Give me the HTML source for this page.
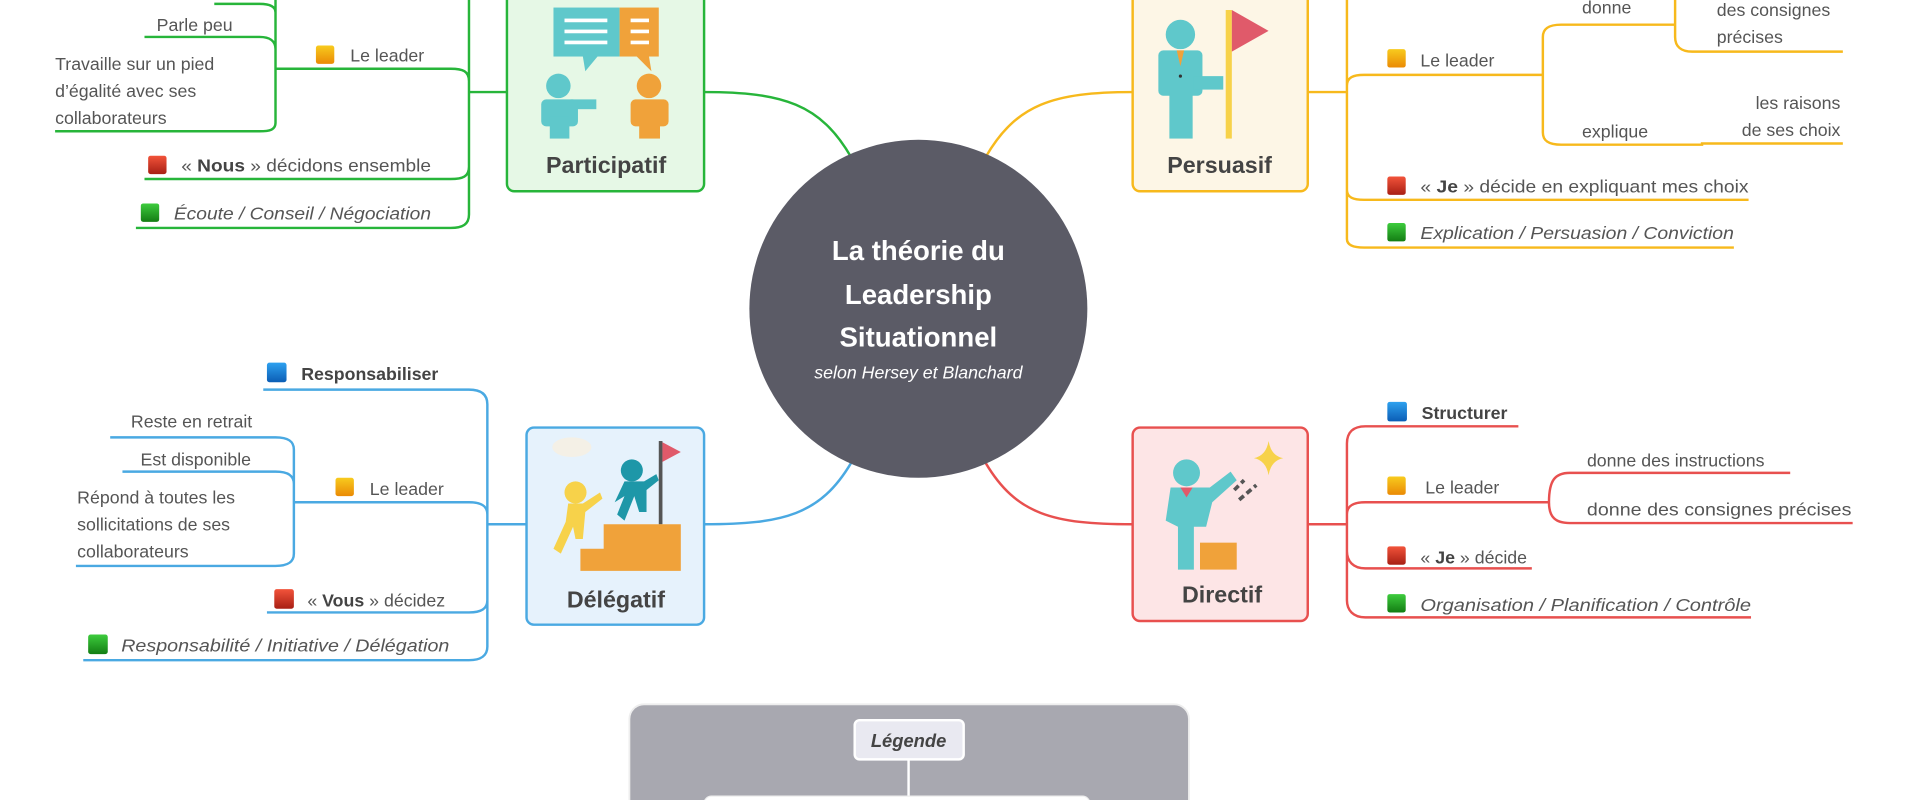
<!DOCTYPE html>
<html><head><meta charset="utf-8"><style>
html,body{margin:0;padding:0;background:#fff;width:1920px;height:800px;overflow:hidden}
svg{display:block}
text{font-family:"Liberation Sans",sans-serif;fill:#555;font-size:14.5px}
.b{font-weight:bold;fill:#444}
.i{font-style:italic}
.g{stroke:#27b53a;fill:none;stroke-width:2}
.y{stroke:#f7b91c;fill:none;stroke-width:2}
.bl{stroke:#4aa9e2;fill:none;stroke-width:2}
.r{stroke:#e8504f;fill:none;stroke-width:2}
</style></head><body>
<svg width="1920" height="800" viewBox="0 0 1568 653" xmlns="http://www.w3.org/2000/svg">
<defs>
<linearGradient id="gO" x1="0" y1="0" x2="0" y2="1"><stop offset="0" stop-color="#f8cb1e"/><stop offset="1" stop-color="#ea8a05"/></linearGradient>
<linearGradient id="gR" x1="0" y1="0" x2="0" y2="1"><stop offset="0" stop-color="#f2533a"/><stop offset="1" stop-color="#a81f14"/></linearGradient>
<linearGradient id="gG" x1="0" y1="0" x2="0" y2="1"><stop offset="0" stop-color="#3dcc3d"/><stop offset="1" stop-color="#137d13"/></linearGradient>
<linearGradient id="gB" x1="0" y1="0" x2="0" y2="1"><stop offset="0" stop-color="#2ea1ef"/><stop offset="1" stop-color="#0b5db5"/></linearGradient>
</defs>

<path class="g" d="M695,128 C670,85 640,75 575,75"/>
<path class="y" d="M805,128 C830,85 860,75 925,75"/>
<path class="bl" d="M695,378 C670,420 640,428 575,428"/>
<path class="r" d="M805,378 C830,420 860,428 925,428"/>

<circle cx="750" cy="252" r="138" fill="#5b5b66"/>
<text x="750" y="212" text-anchor="middle" style="fill:#fff;font-weight:bold;font-size:22.5px">La théorie du</text>
<text x="750" y="248" text-anchor="middle" style="fill:#fff;font-weight:bold;font-size:22.5px">Leadership</text>
<text x="750" y="283" text-anchor="middle" style="fill:#fff;font-weight:bold;font-size:22.5px">Situationnel</text>
<text x="750" y="309" text-anchor="middle" style="fill:#fff;font-style:italic;font-size:14.5px">selon Hersey et Blanchard</text>

<!-- PARTICIPATIF -->
<rect x="414" y="-10" width="161" height="166" rx="6" fill="#e6f8e6" stroke="#27b53a" stroke-width="2"/>
<rect x="452" y="6" width="54" height="40" fill="#5fc8cb"/><path d="M476,46 L478,58 L488,46Z" fill="#5fc8cb"/>
<rect x="506" y="6" width="32" height="40" fill="#f0a23a"/><path d="M520,46 L532,58 L530,46Z" fill="#f0a23a"/>
<g fill="#fff"><rect x="461" y="15" width="35" height="3"/><rect x="461" y="24" width="35" height="3"/><rect x="461" y="33" width="35" height="3"/><rect x="515" y="15" width="15" height="3"/><rect x="515" y="24" width="15" height="3"/><rect x="515" y="33" width="15" height="3"/></g>
<circle cx="456" cy="70" r="10" fill="#5fc8cb"/><rect x="442" y="81" width="30" height="22" rx="4" fill="#5fc8cb"/><rect x="449" y="95" width="16" height="18" fill="#5fc8cb"/><rect x="466" y="81" width="21" height="8" fill="#5fc8cb"/>
<circle cx="530" cy="70" r="10" fill="#f0a23a"/><rect x="515" y="81" width="31" height="22" rx="4" fill="#f0a23a"/><rect x="522" y="95" width="17" height="18" fill="#f0a23a"/>
<text x="495" y="141" text-anchor="middle" class="b" style="font-size:19px">Participatif</text>
<path class="g" d="M414,75 H383"/>
<path class="g" d="M383,-10 V175 M383,66 C383,58 378,56 368,56 H225 M383,136 C383,144 378,146 368,146 H118 M383,175 C383,183 378,186 368,186 H111"/>
<path class="g" d="M225,-5 V100 C225,106 220,107 212,107 H45 M225,40 C225,33 220,30 212,30 H118 M225,10 C225,5 220,3 212,3 H175"/>
<rect x="258" y="37" width="15" height="15" rx="2" fill="url(#gO)"/><text x="286" y="50">Le leader</text>
<text x="190" y="25" text-anchor="end">Parle peu</text>
<text x="45" y="57">Travaille sur un pied</text><text x="45" y="79">d’égalité avec ses</text><text x="45" y="101">collaborateurs</text>
<rect x="121" y="127" width="15" height="15" rx="2" fill="url(#gR)"/><text x="148" y="140" textLength="204" lengthAdjust="spacingAndGlyphs">« <tspan class="b">Nous</tspan> » décidons ensemble</text>
<rect x="115" y="166" width="15" height="15" rx="2" fill="url(#gG)"/><text x="142" y="179" class="i" textLength="210" lengthAdjust="spacingAndGlyphs">Écoute / Conseil / Négociation</text>

<!-- PERSUASIF -->
<rect x="925" y="-10" width="143" height="166" rx="6" fill="#fdf6e6" stroke="#f7b91c" stroke-width="2"/>
<circle cx="964" cy="28" r="12" fill="#5fc8cb"/><rect x="946" y="41" width="36" height="37" rx="4" fill="#5fc8cb"/><rect x="955" y="74" width="19" height="39" fill="#5fc8cb"/><rect x="975" y="62" width="24" height="11" fill="#5fc8cb"/>
<path d="M961,41 L967,41 L964,54Z" fill="#f0a23a"/><circle cx="964" cy="62" r="1.3" fill="#333"/>
<rect x="1001" y="8" width="5" height="105" fill="#f7d24a"/><path d="M1006,8 L1036,25 L1006,42Z" fill="#e05a6a"/>
<text x="996" y="141" text-anchor="middle" class="b" style="font-size:19px">Persuasif</text>
<path class="y" d="M1068,75 H1100 M1100,-10 V195 M1100,70 C1100,63 1105,61 1114,61 H1260 M1100,155 C1100,161 1105,163 1114,163 H1428 M1100,195 C1100,200 1105,202 1114,202 H1416"/>
<path class="y" d="M1260,30 C1260,23 1265,20 1275,20 H1368 M1260,30 V108 C1260,115 1265,118 1275,118 H1390 L1390,117 H1505"/>
<path class="y" d="M1368,20 V-5 M1368,20 V30 C1368,38 1373,42 1382,42 H1505"/>
<rect x="1133" y="40" width="15" height="15" rx="2" fill="url(#gO)"/><text x="1160" y="54">Le leader</text>
<text x="1292" y="11">donne</text>
<text x="1402" y="13">des consignes</text><text x="1402" y="35">précises</text>
<text x="1292" y="112">explique</text>
<text x="1503" y="89" text-anchor="end">les raisons</text><text x="1503" y="111" text-anchor="end">de ses choix</text>
<rect x="1133" y="144" width="15" height="15" rx="2" fill="url(#gR)"/><text x="1160" y="157" textLength="268" lengthAdjust="spacingAndGlyphs">« <tspan class="b">Je</tspan> » décide en expliquant mes choix</text>
<rect x="1133" y="182" width="15" height="15" rx="2" fill="url(#gG)"/><text x="1160" y="195" class="i" textLength="256" lengthAdjust="spacingAndGlyphs">Explication / Persuasion / Conviction</text>

<!-- DELEGATIF -->
<rect x="430" y="349" width="145" height="161" rx="6" fill="#e6f2fc" stroke="#4aa9e2" stroke-width="2"/>
<ellipse cx="467" cy="365" rx="16" ry="8" fill="#f4f0e6"/>
<rect x="538" y="360" width="3" height="68" fill="#555"/><path d="M541,361 L556,369 L541,377Z" fill="#e05a6a"/>
<path d="M448,466 L474,466 L474,448 L493,448 L493,428 L556,428 L556,466 L448,466Z" fill="#f0a23a"/>
<circle cx="516" cy="384" r="9" fill="#1e97a8"/><path d="M510,393 L526,393 L536,387 L538,392 L528,400 L528,418 L522,418 L518,405 L510,425 L504,420 L510,405 L502,410Z" fill="#1e97a8"/>
<circle cx="470" cy="402" r="9" fill="#f7d24a"/><path d="M464,411 L476,411 L490,402 L492,407 L478,418 L476,440 L470,440 L468,430 L458,452 L452,448 L462,426Z" fill="#f7d24a"/>
<text x="503" y="496" text-anchor="middle" class="b" style="font-size:19px">Délégatif</text>
<path class="bl" d="M430,428 H398 M398,330 V528 M398,330 C398,322 393,318 383,318 H215 M398,420 C398,413 393,410 383,410 H240 M398,490 C398,497 393,500 383,500 H218 M398,528 C398,535 393,539 383,539 H68"/>
<path class="bl" d="M240,367 V452 C240,459 235,462 225,462 H62 M240,367 C240,360 235,357 225,357 H90 M240,395 C240,388 235,385 225,385 H100"/>
<rect x="218" y="296" width="16" height="16" rx="2" fill="url(#gB)"/><text x="246" y="310" class="b">Responsabiliser</text>
<rect x="274" y="390" width="15" height="15" rx="2" fill="url(#gO)"/><text x="302" y="404">Le leader</text>
<text x="206" y="349" text-anchor="end">Reste en retrait</text>
<text x="205" y="380" text-anchor="end">Est disponible</text>
<text x="63" y="411">Répond à toutes les</text><text x="63" y="433">sollicitations de ses</text><text x="63" y="455">collaborateurs</text>
<rect x="224" y="481" width="16" height="16" rx="2" fill="url(#gR)"/><text x="251" y="495">« <tspan class="b">Vous</tspan> » décidez</text>
<rect x="72" y="518" width="16" height="16" rx="2" fill="url(#gG)"/><text x="99" y="532" class="i" textLength="268" lengthAdjust="spacingAndGlyphs">Responsabilité / Initiative / Délégation</text>

<!-- DIRECTIF -->
<rect x="925" y="349" width="143" height="158" rx="6" fill="#fde5e6" stroke="#e8504f" stroke-width="2"/>
<circle cx="969" cy="386" r="11" fill="#5fc8cb"/><path d="M956,398 L988,398 L1005,385 L1010,392 L990,410 L985,430 L975,430 L975,465 L962,465 L962,430 L952,425 Z" fill="#5fc8cb"/>
<path d="M964,398 L974,398 L969,406Z" fill="#e05a6a"/>
<rect x="980" y="443" width="30" height="22" fill="#f0a23a"/>
<path d="M1008,400 L1016,392 M1012,408 L1026,396" stroke="#555" stroke-width="3" stroke-dasharray="5 3"/>
<path d="M1036,360 Q1038,372 1048,374 Q1038,376 1036,388 Q1034,376 1024,374 Q1034,372 1036,360Z" fill="#f7d24a"/>
<text x="998" y="492" text-anchor="middle" class="b" style="font-size:19px">Directif</text>
<path class="r" d="M1068,428 H1100 M1100,362 V490 M1100,362 C1100,353 1105,348 1115,348 H1240 M1100,420 C1100,413 1105,410 1115,410 H1265 M1100,450 C1100,458 1105,464 1115,464 H1251 M1100,490 C1100,498 1105,504 1115,504 H1430"/>
<path class="r" d="M1265,410 C1265,392 1270,386 1282,386 H1462 M1265,410 C1265,422 1270,427 1282,427 H1513"/>
<rect x="1133" y="328" width="16" height="16" rx="2" fill="url(#gB)"/><text x="1161" y="342" class="b">Structurer</text>
<rect x="1133" y="389" width="15" height="15" rx="2" fill="url(#gO)"/><text x="1164" y="403">Le leader</text>
<text x="1296" y="381">donne des instructions</text>
<text x="1296" y="421" textLength="216" lengthAdjust="spacingAndGlyphs">donne  des consignes précises</text>
<rect x="1133" y="446" width="15" height="15" rx="2" fill="url(#gR)"/><text x="1160" y="460">« <tspan class="b">Je</tspan> » décide</text>
<rect x="1133" y="485" width="15" height="15" rx="2" fill="url(#gG)"/><text x="1160" y="499" class="i" textLength="270" lengthAdjust="spacingAndGlyphs">Organisation /  Planification / Contrôle</text>

<!-- LEGEND -->
<rect x="514" y="575" width="457" height="100" rx="12" fill="#a8a8b0" stroke="#eeeeee" stroke-width="1.5"/>
<rect x="698" y="588" width="89" height="32" rx="4" fill="#e9e9f1" stroke="#fff" stroke-width="2"/>
<text x="742" y="610" text-anchor="middle" class="b i" style="font-size:15px">Légende</text>
<path d="M742,620 V653" stroke="#fff" stroke-width="2"/>
<rect x="575" y="650" width="315" height="20" rx="6" fill="#fff" stroke="#eee"/>
</svg>
</body></html>
